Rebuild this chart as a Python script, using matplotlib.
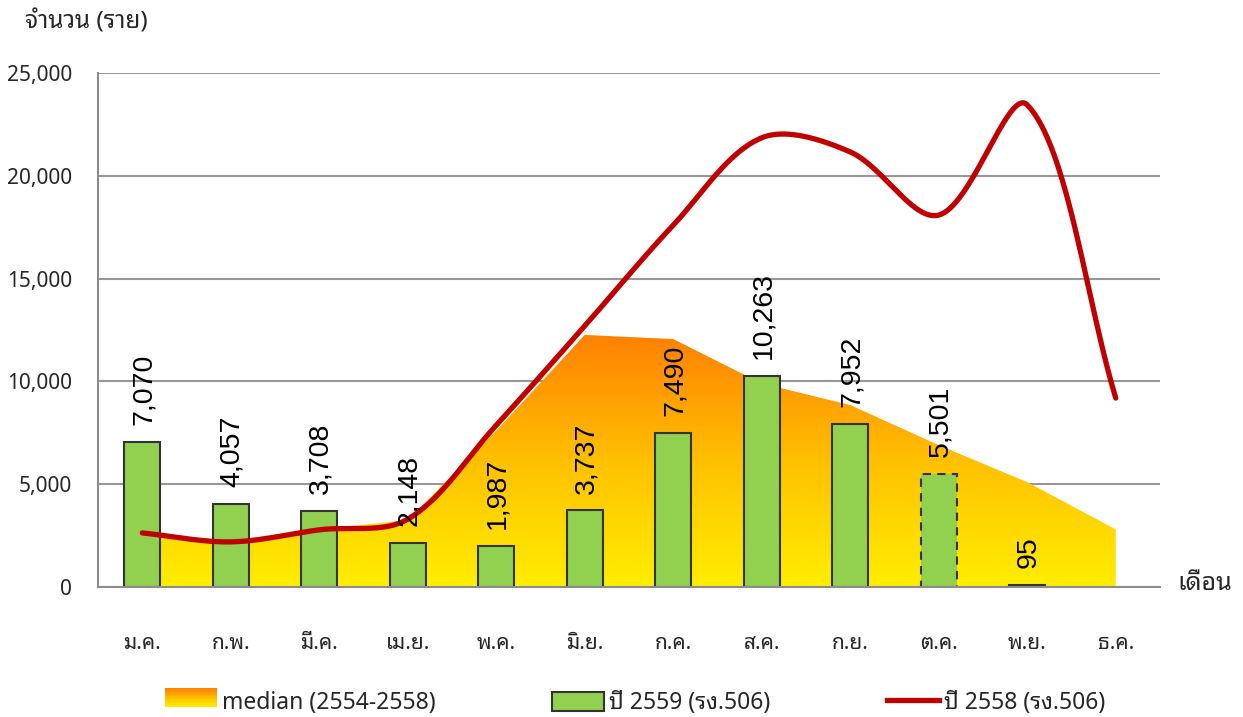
import matplotlib
matplotlib.use("Agg")
import numpy as np
import matplotlib.pyplot as plt
from matplotlib import font_manager as fm
from matplotlib.patches import Rectangle, Patch
from matplotlib.lines import Line2D
from matplotlib.legend_handler import HandlerBase
from matplotlib.colors import LinearSegmentedColormap

# ---------------- data ----------------
months = ["ม.ค.", "ก.พ.", "มี.ค.", "เม.ย.", "พ.ค.", "มิ.ย.",
          "ก.ค.", "ส.ค.", "ก.ย.", "ต.ค.", "พ.ย.", "ธ.ค."]
median_vals = [2650, 2250, 2800, 3250, 7600, 12260,
               12060, 9900, 8850, 6900, 5100, 2800]
bars_2559 = [7070, 4057, 3708, 2148, 1987, 3737,
             7490, 10263, 7952, 5501, 95]
line_2558 = [2630, 2195, 2780, 3300, 7870, 12700,
             17600, 21850, 21160, 18090, 23450, 9190]
bar_labels = ["7,070", "4,057", "3,708", "2,148", "1,987", "3,737",
              "7,490", "10,263", "7,952", "5,501", "95"]
yticks = [0, 5000, 10000, 15000, 20000, 25000]
ytick_labels = ["0", "5,000", "10,000", "15,000", "20,000", "25,000"]
legend_labels = ["median (2554-2558)", "ปี 2559 (รง.506)", "ปี 2558 (รง.506)"]
ylabel_text = "จำนวน (ราย)"
xlabel_text = "เดือน"

# ---------------- fonts ----------------
names = {f.name for f in fm.fontManager.ttflist}
thai = None
for cand in ["Noto Sans Thai Looped", "Noto Sans Thai", "Sarabun", "Anuphan"]:
    if cand in names:
        thai = cand
        break
THAI = [thai, "Noto Sans", "DejaVu Sans"] if thai else ["DejaVu Sans"]
plt.rcParams["font.family"] = THAI
ARIAL = ["Liberation Sans", "DejaVu Sans"]
TXT = "#262626"

# ---------------- figure ----------------
W, H = 1243, 717
fig = plt.figure(figsize=(W / 100, H / 100), dpi=100)
L, R, T, B = 98, 1160, 73, 587
ax = fig.add_axes([L / W, 1 - B / H, (R - L) / W, (B - T) / H])
ax.set_xlim(-0.5, len(months) - 0.5)
ax.set_ylim(0, 25000)

x = np.arange(len(months))

# median gradient area
poly = ax.fill_between(x, median_vals, 0, color="none", lw=0)
top = max(median_vals)
cmap = LinearSegmentedColormap.from_list("g", ["#FFEE00", "#FFC000", "#FF8000"])
grad = np.linspace(0, 1, 256).reshape(-1, 1)
im = ax.imshow(grad, cmap=cmap, origin="lower", aspect="auto",
               extent=[x[0], x[-1], 0, top], zorder=1, interpolation="bilinear")
im.set_clip_path(poly.get_paths()[0], transform=ax.transData)

# bars
bw = 0.41
bx = x[:len(bars_2559)]
bars = ax.bar(bx, bars_2559, width=bw, color="#92D050", edgecolor="#333333",
              linewidth=1.5, zorder=2)
bars[9].set_linestyle((0, (4, 3)))

# smoothed 2558 line (Bezier spline through data points, built in pixel space)
def smooth(xs, ys, n=40):
    px_per_x = (R - L) / len(months)
    px_per_y = (B - T) / 25000.0
    P = np.column_stack([np.asarray(xs) * px_per_x, np.asarray(ys) * px_per_y]).astype(float)
    P = np.vstack([P[0] - (P[1] - P[0]), P, P[-1] + (P[-1] - P[-2])])
    d = np.linalg.norm(np.diff(P, axis=0), axis=1)
    out = []
    for i in range(1, len(P) - 2):
        p0, p1, p2, p3 = P[i - 1], P[i], P[i + 1], P[i + 2]
        d01, d12, d23 = d[i - 1], d[i], d[i + 1]
        c1 = p1 + (p2 - p0) * d12 / (d01 + d12) / 3.0
        c2 = p2 - (p3 - p1) * d12 / (d12 + d23) / 3.0
        t = np.linspace(0, 1, n, endpoint=False)[:, None]
        out.append((1 - t) ** 3 * p1 + 3 * (1 - t) ** 2 * t * c1
                   + 3 * (1 - t) * t ** 2 * c2 + t ** 3 * p2)
    out.append(P[-2][None, :])
    out = np.vstack(out)
    return out[:, 0] / px_per_x, out[:, 1] / px_per_y

sx, sy = smooth(x, line_2558)
ax.plot(sx, sy, color="#C00000", lw=3.8, solid_capstyle="round", zorder=3)

# data labels
for xi, v, lab in zip(bx, bars_2559, bar_labels):
    ax.annotate(lab, (xi, v), xytext=(1, 12), textcoords="offset points",
                rotation=90, ha="center", va="bottom", fontsize=20.5,
                family=ARIAL, color="#000000", zorder=5)

# axes styling
ax.set_yticks(yticks)
ax.set_yticklabels(ytick_labels)
ax.set_xticks(x)
ax.set_xticklabels(months)
ax.tick_params(axis="y", length=0, pad=18.5, labelsize=15, labelcolor=TXT)
ax.tick_params(axis="x", length=0, pad=33, labelsize=15, labelcolor=TXT)
ax.grid(axis="y", color="#979797", lw=1.5)
ax.set_axisbelow(True)
for s in ["top", "right"]:
    ax.spines[s].set_visible(False)
for s in ["left", "bottom"]:
    ax.spines[s].set_color("#8c8c8c")
    ax.spines[s].set_linewidth(1.5)

fig.text(25 / W, 1 - 22 / H, ylabel_text, ha="left", va="center",
         fontsize=17.5, color=TXT)
fig.text(1177 / W, 1 - 583 / H, xlabel_text, ha="left", va="center",
         fontsize=18, color=TXT)

# legend
class HandlerGradient(HandlerBase):
    def create_artists(self, legend, orig, xd, yd, width, height, fontsize, trans):
        arts = []
        n = 24
        for i in range(n):
            c = cmap(i / (n - 1))
            r = Rectangle((xd, yd + height * i / n), width, height / n + 0.3,
                          facecolor=c, edgecolor="none", transform=trans)
            arts.append(r)
        return arts

h_med = Patch(label=legend_labels[0])
h_bar = Patch(facecolor="#92D050", edgecolor="#333333", lw=1.5, label=legend_labels[1])
h_line = Line2D([], [], color="#C00000", lw=3.8, label=legend_labels[2])
leg = fig.legend(handles=[h_med, h_bar, h_line], labels=legend_labels,
                 loc="center", bbox_to_anchor=(635 / W, 1 - 703 / H), ncol=3,
                 frameon=False, fontsize=16.5, handlelength=2.27, handleheight=0.9,
                 handletextpad=0.2, columnspacing=5.1,
                 handler_map={h_med: HandlerGradient()})
for t in leg.get_texts():
    t.set_color(TXT)

fig.savefig("out.png", dpi=100)
